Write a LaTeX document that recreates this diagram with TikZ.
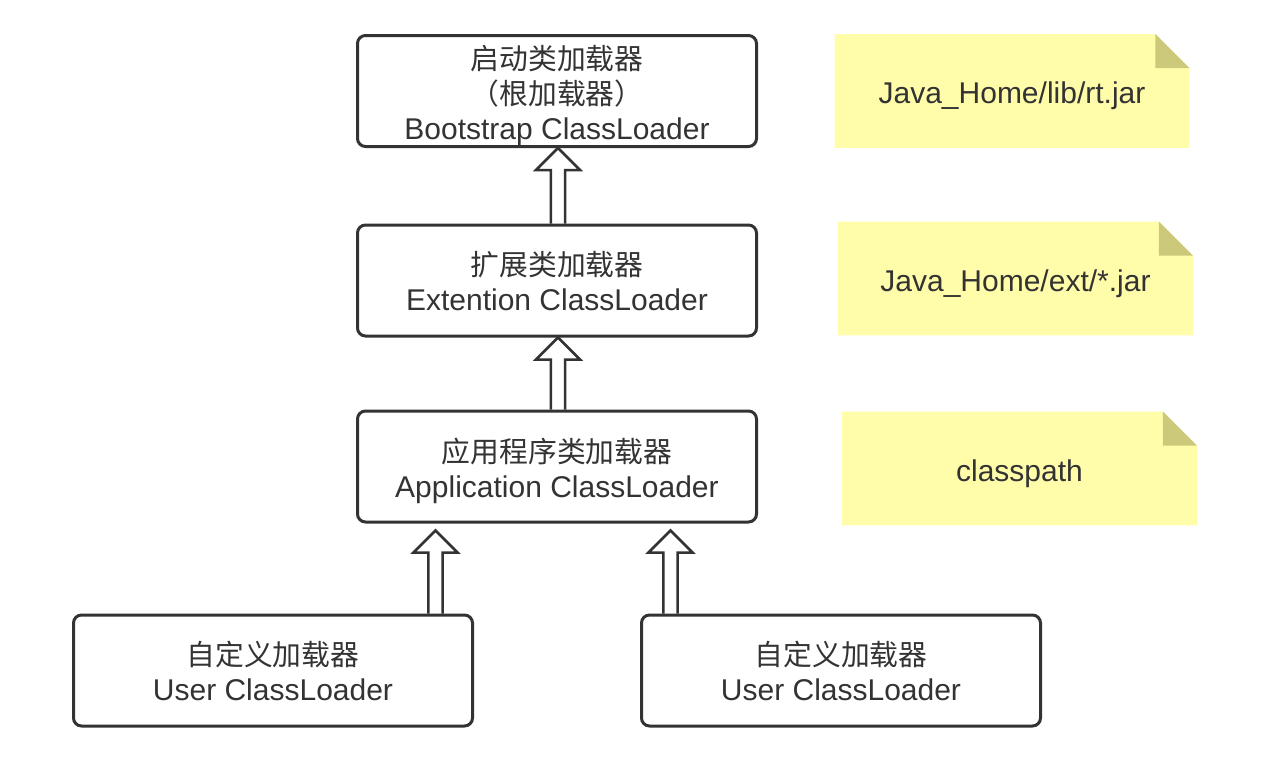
\documentclass[tikz,border=0pt]{standalone}
\usepackage{fontspec}
\setmainfont{Liberation Sans}
\newfontfamily\cjk{Noto Sans CJK SC}[Scale=0.96]
\usetikzlibrary{calc,backgrounds}
\definecolor{ink}{HTML}{333333}
\definecolor{notefill}{RGB}{255,252,170}
\definecolor{notefold}{RGB}{204,201,122}
\tikzset{
  loader/.style={draw=ink, line width=1.5pt, rounded corners=4pt, minimum width=199.5pt, minimum height=55.5pt, inner sep=0pt},
  ltext/.style={align=center, text=ink, inner sep=0pt, font=\fontsize{15pt}{17.5pt}\selectfont},
  notebox/.style={minimum width=177pt, minimum height=56.5pt, inner sep=0pt, text=ink, text height=14pt, text depth=1.2pt, font=\fontsize{15pt}{17.5pt}\selectfont},
  harrow/.style={draw=ink, line width=1.25pt, line join=miter}
}
\newcommand\hollowarrow[2]{%
  \draw[harrow] let \p1=(#1), \p2=(#2) in
    (\x1-3.6pt,\y1) -- (\x1-3.6pt,\y2-11pt) -- (\x1-11pt,\y2-11pt) -- (\x1,\y2)
    -- (\x1+11pt,\y2-11pt) -- (\x1+3.6pt,\y2-11pt) -- (\x1+3.6pt,\y1);
}
\newcommand\notebg[1]{%
  \begin{scope}[on background layer]
    \fill[notefill] (#1.south west) -- (#1.north west) -- ([xshift=-17pt]#1.north east)
      -- ([yshift=-17pt]#1.north east) -- (#1.south east) -- cycle;
    \fill[notefold] ([xshift=-17pt]#1.north east) -- ([xshift=-17pt,yshift=-17pt]#1.north east)
      -- ([yshift=-17pt]#1.north east) -- cycle;
  \end{scope}
}
\begin{document}
\begin{tikzpicture}[x=0.5pt,y=-0.5pt]
\useasboundingbox (0,0) rectangle (1266,778);

\node[loader, label={[ltext,yshift=-2pt]center:{\cjk 启动类加载器}\\{\cjk （根加载器）}\\Bootstrap ClassLoader}] (b1) at (557,91) {};
\node[loader, label={[ltext,yshift=-0.5pt]center:{\cjk 扩展类加载器}\\Extention ClassLoader}] (b2) at (557,280.5) {};
\node[loader, label={[ltext,yshift=-2.2pt]center:{\cjk 应用程序类加载器}\\Application ClassLoader}] (b3) at (557,466.5) {};
\node[loader, label={[ltext]center:{\cjk 自定义加载器}\\User ClassLoader}] (u1) at (273,670.5) {};
\node[loader, label={[ltext]center:{\cjk 自定义加载器}\\User ClassLoader}] (u2) at (841,670.5) {};

\node[notebox] (n1) at (1012,91) {Java\_Home/lib/rt.jar};
\node[notebox] (n2) at (1015.5,278.5) {Java\_Home/ext/*.jar};
\node[notebox] (n3) at (1019.5,468.5) {classpath};
\notebg{n1}
\notebg{n2}
\notebg{n3}

\hollowarrow{$(b2.north)+(1,0)$}{$(b1.south)+(1,0)$}
\hollowarrow{$(b3.north)+(1,0)$}{$(b2.south)+(1,0)$}
\hollowarrow{$(u1.north east)+(-38.5,0)$}{$(b3.south)+(0,7)$}
\hollowarrow{$(u2.north west)+(30.5,0)$}{$(b3.south)+(0,7)$}
\end{tikzpicture}
\end{document}
